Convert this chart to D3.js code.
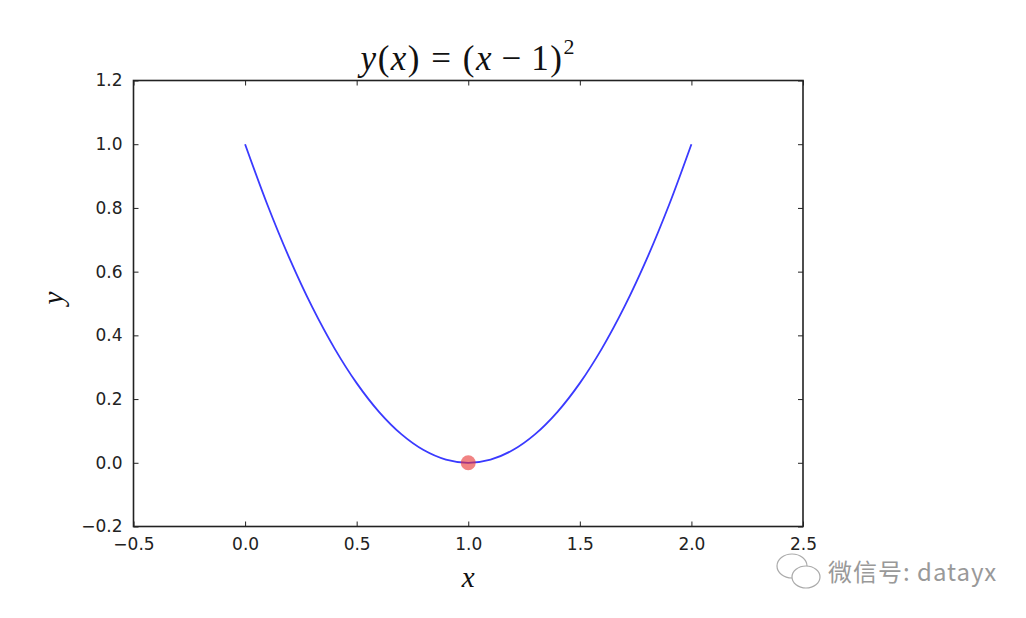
<!DOCTYPE html>
<html><head><meta charset="utf-8">
<script src="https://cdn.jsdelivr.net/npm/d3@7"></script>
<style>body{margin:0;background:#fff}</style>
</head><body>
<svg id="c" width="1026" height="618"></svg>
<script>
const xValues = [0,0.1,0.2,0.3,0.4,0.5,0.6,0.7,0.8,0.9,1.0,1.1,1.2,1.3,1.4,1.5,1.6,1.7,1.8,1.9,2.0];
const yValues = [1.0,0.81,0.64,0.49,0.36,0.25,0.16,0.09,0.04,0.01,0.0,0.01,0.04,0.09,0.16,0.25,0.36,0.49,0.64,0.81,1.0];
const minPoint = [1.0, 0.0];
const xTicks = [-0.5,0,0.5,1,1.5,2,2.5];
const yTicks = [-0.2,0,0.2,0.4,0.6,0.8,1.0,1.2];

const svg = d3.select('#c');
const L=133.5, R=803, T=80.5, B=526.5;
const x = d3.scaleLinear().domain([-0.5,2.5]).range([L,R]);
const y = d3.scaleLinear().domain([-0.2,1.2]).range([B,T]);
const fmt = d => d3.format('.1f')(d).replace('-', '\u2212');
const font = 'DejaVu Sans, sans-serif';

function styleAxis(g){
  g.select('.domain').remove();
  g.selectAll('line').attr('stroke','#222').attr('stroke-width',1);
  g.selectAll('text').attr('font-family',font).attr('font-size',17).attr('fill','#222');
}
svg.append('g').attr('transform',`translate(0,${B})`)
  .call(d3.axisBottom(x).tickValues(xTicks).tickFormat(fmt).tickSizeInner(-5).tickSizeOuter(0).tickPadding(11))
  .call(styleAxis);
svg.append('g').attr('transform',`translate(0,${T})`)
  .call(d3.axisTop(x).tickValues(xTicks).tickFormat('').tickSizeInner(-5).tickSizeOuter(0))
  .call(styleAxis);
svg.append('g').attr('transform',`translate(${L},0)`)
  .call(d3.axisLeft(y).tickValues(yTicks).tickFormat(fmt).tickSizeInner(-5).tickSizeOuter(0).tickPadding(11))
  .call(styleAxis);
svg.append('g').attr('transform',`translate(${R},0)`)
  .call(d3.axisRight(y).tickValues(yTicks).tickFormat('').tickSizeInner(-5).tickSizeOuter(0))
  .call(styleAxis);

svg.append('rect').attr('x',L).attr('y',T).attr('width',R-L).attr('height',B-T)
  .attr('fill','none').attr('stroke','#222').attr('stroke-width',1.6);

const pts = xValues.map((v,i)=>[v,yValues[i]]);
svg.append('path').datum(pts)
  .attr('d', d3.line().x(d=>x(d[0])).y(d=>y(d[1])).curve(d3.curveCatmullRom.alpha(0.5)))
  .attr('fill','none').attr('stroke','#3a3aff').attr('stroke-width',1.8);

svg.append('circle').attr('cx',x(minPoint[0])).attr('cy',y(minPoint[1])).attr('r',7.5)
  .attr('fill','#e83030').attr('fill-opacity',0.6);

// title
const serif = 'Liberation Serif, DejaVu Serif, serif';
const t = svg.append('text').attr('x',(L+R)/2).attr('y',70).attr('text-anchor','middle')
  .attr('font-family',serif).attr('font-size',35).attr('letter-spacing',1.5).attr('fill','#111');
t.append('tspan').attr('font-style','italic').text('y');
t.append('tspan').text('(');
t.append('tspan').attr('font-style','italic').text('x');
t.append('tspan').text(') = (');
t.append('tspan').attr('font-style','italic').text('x');
t.append('tspan').text('\u2009\u2212\u2009');
t.append('tspan').text('1)');
t.append('tspan').attr('font-size',22).attr('dy',-16).text('2');

svg.append('text').attr('x',(L+R)/2).attr('y',587).attr('text-anchor','middle')
  .attr('font-family',serif).attr('font-style','italic').attr('font-size',29).attr('fill','#111').text('x');
svg.append('text').attr('transform','translate(63,298) rotate(-90)').attr('text-anchor','middle')
  .attr('font-family',serif).attr('font-style','italic').attr('font-size',29).attr('fill','#111').text('y');

// watermark
const wm = svg.append('g').attr('stroke','#aaa').attr('fill','#fff').attr('stroke-width',1.2);
wm.append('ellipse').attr('cx',792).attr('cy',566).attr('rx',15).attr('ry',12);
wm.append('ellipse').attr('cx',806).attr('cy',577).attr('rx',14).attr('ry',11);
svg.append('text').attr('x',828).attr('y',581).attr('font-family','Noto Sans CJK SC, sans-serif')
  .attr('font-size',24).attr('letter-spacing',1).attr('fill','#999').text('微信号: datayx');
</script>
</body></html>
